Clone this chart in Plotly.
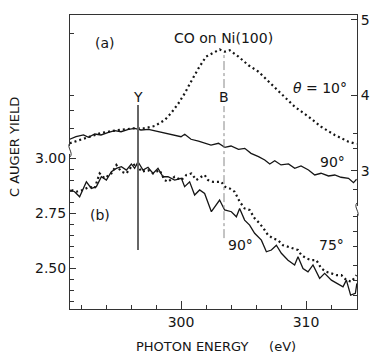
import plotly.graph_objects as go

# ---------------- data ----------------
# panel (a): theta = 10 deg (dotted) and 90 deg (solid), right-hand scale
a10_energy = [291.1, 292.3, 293.6, 294.96, 296.3, 297.1, 297.9, 298.7, 299.2, 299.8, 300.3, 300.8,
              301.4, 302.0, 302.7, 303.1, 303.5, 303.9, 304.6, 305.4, 306.2, 307.0, 308.0, 309.1,
              310.2, 311.2, 312.3, 313.4, 314.05]
a10_yield = [3.367, 3.433, 3.503, 3.543, 3.566, 3.566, 3.596, 3.675, 3.764, 3.897, 4.029, 4.183,
             4.36, 4.514, 4.58, 4.61, 4.58, 4.60, 4.514, 4.40, 4.315, 4.183, 4.03, 3.85,
             3.72, 3.587, 3.477, 3.388, 3.358]

a90_energy = [291.1, 291.6, 292.2, 292.6, 293.1, 293.6, 294.2, 294.7, 295.2, 295.8, 296.3, 296.8,
              297.4, 297.9, 298.4, 299.0, 299.5, 300.0, 300.3, 300.8, 301.4, 301.9, 302.4, 303.0,
              303.5, 304.0, 304.6, 305.1, 305.6, 306.2, 306.7, 307.1, 307.5, 308.0, 308.6, 309.1,
              309.6, 310.2, 310.7, 311.2, 311.8, 312.3, 312.8, 313.4, 313.8, 314.05]
a90_yield = [3.42, 3.454, 3.477, 3.446, 3.49, 3.477, 3.51, 3.534, 3.52, 3.552, 3.565, 3.543,
             3.552, 3.534, 3.52, 3.50, 3.477, 3.454, 3.486, 3.42, 3.397, 3.367, 3.344, 3.367,
             3.314, 3.331, 3.287, 3.30, 3.234, 3.19, 3.146, 3.093, 3.136, 3.08, 3.093, 3.036,
             3.066, 3.013, 2.947, 2.97, 2.934, 2.947, 2.917, 2.903, 2.845, 2.89]

# panel (b): 90 deg (solid) and 75 deg (dotted), left-hand scale
b90_energy = [291.09, 291.49, 291.89, 292.43, 292.83, 293.23, 293.63, 294.03, 294.43, 294.83,
              295.23, 295.63, 296.03, 296.29, 296.56, 296.96, 297.36, 297.76, 298.16, 298.56,
              298.96, 299.49, 300.03, 300.29, 300.69, 301.09, 301.49, 301.89, 302.43, 302.69,
              303.09, 303.49, 304.03, 304.43, 304.69, 305.09, 305.49, 305.89, 306.43, 306.83,
              307.23, 307.63, 308.03, 308.56, 309.09, 309.36, 309.76, 310.16, 310.56, 311.09,
              311.49, 312.03, 312.56, 312.96, 313.23, 313.57, 313.95, 314.07]
b90_yield = [2.855, 2.847, 2.824, 2.892, 2.862, 2.870, 2.915, 2.900, 2.938, 2.953,
             2.961, 2.945, 2.973, 2.953, 2.983, 2.945, 2.958, 2.930, 2.953, 2.915,
             2.915, 2.900, 2.908, 2.870, 2.892, 2.832, 2.855, 2.839, 2.756, 2.779,
             2.809, 2.764, 2.756, 2.733, 2.771, 2.718, 2.695, 2.658, 2.627, 2.574,
             2.582, 2.604, 2.567, 2.536, 2.514, 2.551, 2.498, 2.483, 2.514, 2.453,
             2.476, 2.445, 2.430, 2.415, 2.445, 2.377, 2.385, 2.43]

b75_energy = [291.23, 291.63, 292.16, 292.69, 293.09, 293.49, 293.89, 294.43, 294.83, 295.23,
              295.63, 296.03, 296.43, 296.83, 297.36, 297.76, 298.29, 298.69, 298.96, 299.49,
              300.03, 300.43, 300.83, 301.23, 301.63, 301.89, 302.16, 302.56, 302.96, 303.23,
              303.49, 303.89, 304.29, 304.69, 305.09, 305.49, 305.89, 306.29, 306.69, 306.96,
              307.36, 307.76, 308.16, 308.56, 308.96, 309.36, 309.63, 310.03, 310.43, 310.83,
              311.23, 311.63, 312.03, 312.43, 312.83, 313.23, 313.63, 314.03]
b75_yield = [2.855, 2.847, 2.855, 2.870, 2.862, 2.930, 2.908, 2.930, 2.968, 2.938,
             2.930, 2.961, 2.976, 2.938, 2.945, 2.930, 2.945, 2.900, 2.892, 2.915,
             2.900, 2.923, 2.930, 2.900, 2.915, 2.923, 2.900, 2.892, 2.892, 2.892,
             2.870, 2.862, 2.847, 2.802, 2.771, 2.764, 2.726, 2.703, 2.673, 2.650,
             2.635, 2.627, 2.604, 2.597, 2.589, 2.582, 2.559, 2.544, 2.536, 2.536,
             2.498, 2.483, 2.476, 2.468, 2.468, 2.445, 2.438, 2.468]

# resonance markers
feature_energy = [296.56, 303.44]
feature_label = ["Y", "B"]

# tick labels
x_tick_vals = [300, 310]
x_tick_text = ["300", "310"]
left_tick_vals = [2.50, 2.75, 3.00]
left_tick_text = ["2.50", "2.75", "3.00"]
right_tick_vals = [3, 4, 5]
right_tick_text = ["3", "4", "5"]

# ---------------- figure ----------------
FONT = "DejaVu Sans"
INK = "#151515"
dots = "2px,3px"

fig = go.Figure()
fig.add_trace(go.Scatter(x=a10_energy, y=a10_yield, yaxis="y2", mode="lines",
                         line=dict(color=INK, width=2.2, dash=dots), hoverinfo="skip"))
fig.add_trace(go.Scatter(x=a90_energy, y=a90_yield, yaxis="y2", mode="lines",
                         line=dict(color=INK, width=1.3), hoverinfo="skip"))
fig.add_trace(go.Scatter(x=b75_energy, y=b75_yield, mode="lines",
                         line=dict(color=INK, width=2.2, dash=dots), hoverinfo="skip"))
fig.add_trace(go.Scatter(x=b90_energy, y=b90_yield, mode="lines",
                         line=dict(color=INK, width=1.3), hoverinfo="skip"))

# vertical marker lines (left-scale coordinates)
fig.add_shape(type="line", xref="x", yref="y", x0=feature_energy[0], x1=feature_energy[0],
              y0=2.582, y1=3.241, line=dict(color="#666", width=2))
fig.add_shape(type="line", xref="x", yref="y", x0=feature_energy[1], x1=feature_energy[1],
              y0=2.636, y1=3.236, line=dict(color="#888", width=1, dash="dashdot"))
fig.add_shape(type="line", xref="x", yref="y", x0=feature_energy[1], x1=feature_energy[1],
              y0=3.318, y1=3.468, line=dict(color="#888", width=1, dash="dashdot"))

# axis-break squiggles
for xa, ya in [(0, 0.541), (1, 0.337)]:
    fig.add_shape(type="path", xref="paper", yref="paper", xsizemode="pixel", ysizemode="pixel",
                  xanchor=xa, yanchor=ya, path="M-1.5,-4 L1.5,-4 L1.5,4 L-1.5,4 Z",
                  fillcolor="white", line=dict(width=0), layer="above")
    fig.add_shape(type="path", xref="paper", yref="paper", xsizemode="pixel", ysizemode="pixel",
                  xanchor=xa, yanchor=ya, path="M0,-7 C4,-3 -4,3 0,7",
                  line=dict(color="#333", width=1), layer="above")

labels = [
    ("(a)", 293.92, 3.523),
    ("CO on Ni(100)", 303.36, 3.545),
    ("<i>θ</i> = 10°", 311.12, 3.318),
    ("90°", 312.08, 2.982),
    ("(b)", 293.52, 2.741),
    ("90°", 304.72, 2.605),
    ("75°", 312.0, 2.605),
    (feature_label[0], feature_energy[0], 3.277),
    (feature_label[1], feature_energy[1], 3.277),
]
for t, xx, yy in labels:
    fig.add_annotation(text=t, x=xx, y=yy, xref="x", yref="y", showarrow=False,
                       xanchor="center", yanchor="middle",
                       font=dict(family=FONT, size=14, color=INK))

fig.add_annotation(text="C AUGER YIELD", x=-0.195, y=0.551, xref="paper", yref="paper",
                   xanchor="center", yanchor="middle",
                   textangle=-90, showarrow=False, font=dict(family=FONT, size=13, color=INK))
fig.add_annotation(text="PHOTON ENERGY\u00a0\u00a0\u00a0\u00a0\u00a0(eV)", x=0.509, y=-0.129,
                   xref="paper", yref="paper", showarrow=False,
                   xanchor="center", yanchor="middle",
                   font=dict(family=FONT, size=13, color=INK))

left_minor = [2.35, 2.40, 2.45, 2.55, 2.60, 2.65, 2.70, 2.80, 2.85, 2.90, 2.95,
              3.136, 3.214, 3.286, 3.564]
right_minor = [3.5, 3.3, 2.75, 2.4, 2.2, 2.0, 1.75, 1.55, 1.35]

fig.update_layout(
    width=370, height=354,
    margin=dict(l=70, r=13, t=15, b=45, autoexpand=False),
    paper_bgcolor="white", plot_bgcolor="white",
    showlegend=False,
    font=dict(family=FONT, size=13, color=INK),
    xaxis=dict(range=[291.12, 314.08], tickvals=x_tick_vals, ticktext=x_tick_text,
               ticks="inside", ticklen=8, tickcolor="#333", showline=True, linecolor="#333",
               linewidth=1, mirror=True, showgrid=False, zeroline=False, automargin=False,
               tickfont=dict(family=FONT, size=14, color=INK),
               minor=dict(tick0=292, dtick=2, ticks="inside", ticklen=4, tickcolor="#333")),
    yaxis=dict(range=[2.314, 3.650], tickvals=left_tick_vals, ticktext=left_tick_text,
               ticks="inside", ticklen=6, tickcolor="#333", showline=True, linecolor="#333",
               linewidth=1, showgrid=False, zeroline=False, automargin=False,
               tickfont=dict(family=FONT, size=14, color=INK),
               minor=dict(tickvals=left_minor, ticks="inside", ticklen=4, tickcolor="#333")),
    yaxis2=dict(range=[1.172, 5.066], overlaying="y", side="right", tickvals=right_tick_vals,
                ticktext=right_tick_text, ticks="inside", ticklen=6, tickcolor="#333",
                showline=True, linecolor="#333", linewidth=1, showgrid=False, zeroline=False,
                automargin=False,
                tickfont=dict(family=FONT, size=14, color=INK),
                minor=dict(tickvals=right_minor, ticks="inside", ticklen=4, tickcolor="#333")),
)

fig.write_html("out.html", config={"displayModeBar": False})
